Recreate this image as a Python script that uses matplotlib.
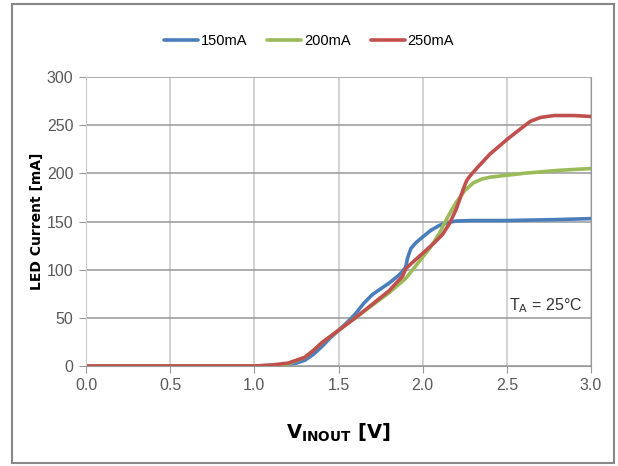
import matplotlib.pyplot as plt
from matplotlib.patches import Rectangle

# (V_INOUT in V, LED current in mA)
v_150 = [0.0, 1.0, 1.1, 1.2, 1.25, 1.3, 1.35, 1.4, 1.45, 1.5, 1.55, 1.6, 1.65, 1.7, 1.75,
         1.8, 1.85, 1.88, 1.9, 1.91, 1.93, 1.96, 2.0, 2.05, 2.1, 2.15, 2.2, 2.3, 2.5, 2.8, 3.0]
i_150 = [0, 0, 0.5, 2, 3, 6, 12, 20, 29, 37, 45, 54, 65, 74, 80,
         86, 93, 98, 103, 112, 122, 128, 134, 141, 146, 149, 150.5, 151, 151, 152, 153]

v_200 = [0.0, 1.0, 1.1, 1.2, 1.3, 1.35, 1.4, 1.5, 1.6, 1.7, 1.8, 1.9, 1.95, 2.0, 2.05, 2.1,
         2.15, 2.2, 2.25, 2.3, 2.35, 2.4, 2.5, 2.6, 2.8, 3.0]
i_200 = [0, 0, 0.5, 2, 9, 16, 24, 37, 50, 63, 76, 91, 102, 113, 124, 138,
         155, 170, 182, 190, 194, 196, 198, 200, 203, 205]

v_250 = [0.0, 1.0, 1.1, 1.2, 1.3, 1.35, 1.4, 1.5, 1.6, 1.7, 1.8, 1.88, 1.9, 1.93, 2.0, 2.07,
         2.12, 2.16, 2.2, 2.24, 2.26, 2.28, 2.32, 2.4, 2.5, 2.58, 2.64, 2.7, 2.78, 2.9, 3.0]
i_250 = [0, 0, 1, 3, 9, 16, 24, 37, 50, 64, 78, 93, 101, 106, 117, 128,
         137, 148, 163, 183, 192, 197, 205, 220, 235, 246, 254, 258, 260, 260, 259]

labels = ["150mA", "200mA", "250mA"]
colors = ["#4a7ebb", "#9bbb59", "#c0504d"]

fnt = ["Liberation Sans", "DejaVu Sans"]

fig = plt.figure(figsize=(6.18, 4.66), dpi=100)
ax = fig.add_axes([86/618, 100/466, 505/618, 289/466])

for v, i, lab, c in zip([v_150, v_200, v_250], [i_150, i_200, i_250], labels, colors):
    ax.plot(v, i, color=c, lw=2.6, label=lab, solid_capstyle="round", solid_joinstyle="round")

ax.set_xlim(0, 3)
ax.set_ylim(0, 300)
ax.set_xticks([0, 0.5, 1.0, 1.5, 2.0, 2.5, 3.0])
ax.set_xticklabels(["0.0", "0.5", "1.0", "1.5", "2.0", "2.5", "3.0"], family=fnt, fontsize=11.5, color="#595959")
ax.set_yticks(range(0, 301, 50))
ax.set_yticklabels([str(t) for t in range(0, 301, 50)], family=fnt, fontsize=11.5, color="#595959")

ax.grid(axis="y", color="#999999", lw=1.1)
ax.grid(axis="x", color="#c8c8c8", lw=1.1)
ax.set_axisbelow(True)
ax.spines["top"].set_visible(False)
ax.spines["right"].set_color("#999999")
ax.spines["left"].set_color("#c8c8c8")
ax.spines["bottom"].set_color("#999999")
ax.tick_params(axis="both", length=5, color="#999999", pad=4)

ax.set_ylabel("LED Current [mA]", fontweight="bold", fontsize=10, labelpad=2)
ax.set_xlabel(r"$\mathbf{V_{INOUT}}$ [V]", fontweight="bold", fontsize=14, labelpad=20)

ax.text(2.95, 63, r"T$_\mathrm{A}$ = 25°C", ha="right", va="center", family=fnt, fontsize=11.5, color="#333333")

fig.legend(loc="upper center", bbox_to_anchor=(0.5, 0.955), ncol=3, frameon=False,
           prop={"family": fnt, "size": 10.5}, handlelength=2.3, columnspacing=1.4, handletextpad=0.2)

fig.patches.append(Rectangle((12/618, 3/466), 602/618, 459/466, transform=fig.transFigure,
                             fill=False, edgecolor="#888888", lw=1.5))

fig.savefig("out.png", dpi=100)
